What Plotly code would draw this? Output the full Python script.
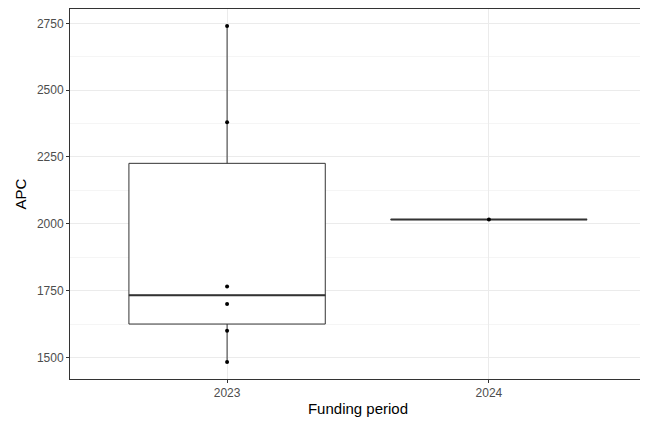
import numpy as np
import plotly.graph_objects as go

periods = ["2023", "2024"]
apc_2023 = [2740, 2380, 1765, 1700, 1600, 1483]
apc_2024 = [2016]
groups = [apc_2023, apc_2024]

fig = go.Figure()
for i, vals in enumerate(groups):
    v = np.array(vals, float)
    q1, med, q3 = np.percentile(v, [25, 50, 75])
    iqr = q3 - q1
    lo = v[v >= q1 - 1.5 * iqr].min()
    hi = v[v <= q3 + 1.5 * iqr].max()
    fig.add_trace(go.Box(x=[i], q1=[q1], median=[med], q3=[q3], lowerfence=[lo], upperfence=[hi],
                         width=0.75, whiskerwidth=0, fillcolor="white", line=dict(color="#333333", width=1),
                         boxpoints=False, showlegend=False, hoverinfo="skip"))
    fig.add_trace(go.Scatter(x=[i - 0.375, i + 0.375], y=[med, med], mode="lines",
                             line=dict(color="#333333", width=2), showlegend=False, hoverinfo="skip"))
    fig.add_trace(go.Scatter(x=[i] * len(vals), y=vals, mode="markers",
                             marker=dict(color="black", size=4), showlegend=False))

fig.update_layout(
    width=648, height=432, plot_bgcolor="white", paper_bgcolor="white",
    margin=dict(l=62, r=10, t=1, b=61),
    font=dict(family="Liberation Sans", size=12, color="#4d4d4d"),
    xaxis=dict(range=[-0.6, 1.6], tickvals=[0, 1], ticktext=periods,
               showgrid=True, gridcolor="#ebebeb", gridwidth=1.3,
               showline=True, mirror=True, linecolor="#333333", linewidth=1,
               ticks="outside", ticklen=3, tickcolor="#333333", zeroline=False,
               title=dict(text="Funding period", font=dict(size=15, color="black"), standoff=4)),
    yaxis=dict(range=[1419.4, 2803.6], tickvals=[1500, 1750, 2000, 2250, 2500, 2750],
               showgrid=True, gridcolor="#ebebeb", gridwidth=1.3,
               minor=dict(tickvals=[1625, 1875, 2125, 2375, 2625], showgrid=True, gridcolor="#f5f5f5", gridwidth=0.7),
               showline=True, mirror=True, linecolor="#333333", linewidth=1,
               ticks="outside", ticklen=3, tickcolor="#333333", zeroline=False,
               title=dict(text="APC", font=dict(size=15, color="black"), standoff=6)),
)
fig.write_html("out.html")
